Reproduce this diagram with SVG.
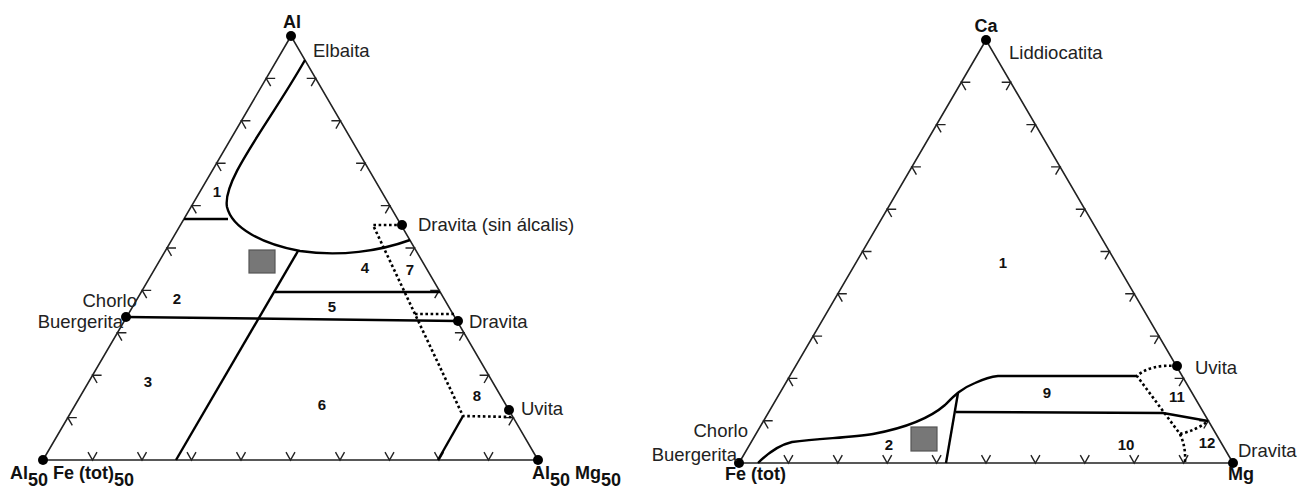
<svg xmlns="http://www.w3.org/2000/svg" width="1298" height="492" viewBox="0 0 1298 492">
<style>
.edge{fill:none;stroke:#222;stroke-width:1.6}
.tick{fill:none;stroke:#222;stroke-width:1.4}
.ln{fill:none;stroke:#000;stroke-width:2.4;stroke-linejoin:round}
.dot{fill:none;stroke:#000;stroke-width:2.6;stroke-dasharray:2.6 2.6}
.pt{fill:#000}
.lbl{font-family:"Liberation Sans",Arial,sans-serif;font-size:18.5px;fill:#222}
.ax{font-family:"Liberation Sans",Arial,sans-serif;font-size:18px;font-weight:bold;fill:#111}
.num{font-family:"Liberation Sans",Arial,sans-serif;font-size:15px;font-weight:bold;fill:#111;text-anchor:middle}
.sq{fill:#777;stroke:#555;stroke-width:1.2}
</style>
<defs>
<path id="tl" class="tick" d="M9,0 L0,0 L4.5,7.8"/>
<path id="tr" class="tick" d="M-9,0 L0,0 L-4.5,7.8"/>
<path id="tb" class="tick" d="M-4.5,-7.8 L0,0 L4.5,-7.8"/>
</defs>
<rect width="1298" height="492" fill="#fff"/>

<g id="triangle-left">
<path class="edge" d="M291,36 L43,460 L538,460 Z"/>
<g id="ticks-left">
<use href="#tl" x="266.2" y="78.4"/><use href="#tl" x="241.4" y="120.8"/><use href="#tl" x="216.6" y="163.2"/>
<use href="#tl" x="191.8" y="205.6"/><use href="#tl" x="167" y="248"/><use href="#tl" x="142.2" y="290.4"/>
<use href="#tl" x="117.4" y="332.8"/><use href="#tl" x="92.6" y="375.2"/><use href="#tl" x="67.8" y="417.6"/>
<use href="#tr" x="315.7" y="78.4"/><use href="#tr" x="340.4" y="120.8"/><use href="#tr" x="365.1" y="163.2"/>
<use href="#tr" x="389.8" y="205.6"/><use href="#tr" x="414.5" y="248"/><use href="#tr" x="439.2" y="290.4"/>
<use href="#tr" x="463.9" y="332.8"/><use href="#tr" x="488.6" y="375.2"/><use href="#tr" x="513.3" y="417.6"/>
<use href="#tb" x="92.5" y="460"/><use href="#tb" x="142" y="460"/><use href="#tb" x="191.5" y="460"/>
<use href="#tb" x="241" y="460"/><use href="#tb" x="290.5" y="460"/><use href="#tb" x="340" y="460"/>
<use href="#tb" x="389.5" y="460"/><use href="#tb" x="439" y="460"/><use href="#tb" x="488.5" y="460"/>
</g>
</g>

<g id="connectors-left">
<path class="ln" d="M305,60 C268,125 222,180 227,207 C232,228 262,244 300,251 C340,257 380,251 410,240"/>
<path class="ln" d="M184,219 L228,219"/>
<path class="ln" d="M298,251 L176,460"/>
<path class="ln" d="M275,292 L440,292"/>
<path class="ln" d="M126,317 L458,321"/>
<path class="ln" d="M463,416 L438,460"/>
<path class="dot" d="M402,225 L373,225 L463,416 L512,417"/>
<path class="dot" d="M415,314 L455,314"/>
</g>

<g id="regions-left">
<rect class="sq" x="249" y="250" width="26" height="23"/>
<text class="num" x="217" y="197">1</text>
<text class="num" x="177" y="304">2</text>
<text class="num" x="148" y="387">3</text>
<text class="num" x="365" y="273">4</text>
<text class="num" x="332" y="312">5</text>
<text class="num" x="322" y="410">6</text>
<text class="num" x="410" y="275">7</text>
<text class="num" x="477" y="401">8</text>
</g>

<g id="node-al">
<circle class="pt" cx="291" cy="36" r="5"/>
<text class="ax" x="292" y="28" text-anchor="middle">Al</text>
<text class="lbl" x="313" y="57">Elbaita</text>
</g>
<g id="node-dravita-sin">
<circle class="pt" cx="402" cy="225" r="5"/>
<text class="lbl" x="418" y="231">Dravita (sin álcalis)</text>
</g>
<g id="node-chorlo-left">
<circle class="pt" cx="126" cy="317" r="5"/>
<text class="lbl" x="137" y="307" text-anchor="end">Chorlo</text>
<text class="lbl" x="123" y="328" text-anchor="end">Buergerita</text>
</g>
<g id="node-dravita-left">
<circle class="pt" cx="458" cy="321" r="5"/>
<text class="lbl" x="469" y="328">Dravita</text>
</g>
<g id="node-uvita-left">
<circle class="pt" cx="509" cy="410" r="5"/>
<text class="lbl" x="521" y="415">Uvita</text>
</g>
<g id="node-alfe">
<circle class="pt" cx="43" cy="460" r="5"/>
<text class="ax" x="10" y="479">Al<tspan dy="7">50</tspan><tspan dy="-7"> Fe (tot)</tspan><tspan dy="7">50</tspan></text>
</g>
<g id="node-almg">
<circle class="pt" cx="538" cy="460" r="5"/>
<text class="ax" x="532" y="479">Al<tspan dy="7">50</tspan><tspan dy="-7"> Mg</tspan><tspan dy="7">50</tspan></text>
</g>

<g id="triangle-right">
<path class="edge" d="M986,40 L739,463 L1233,463 Z"/>
<g id="ticks-right">
<use href="#tl" x="961.3" y="82.3"/><use href="#tl" x="936.6" y="124.6"/><use href="#tl" x="911.9" y="166.9"/>
<use href="#tl" x="887.2" y="209.2"/><use href="#tl" x="862.5" y="251.5"/><use href="#tl" x="837.8" y="293.8"/>
<use href="#tl" x="813.1" y="336.1"/><use href="#tl" x="788.4" y="378.4"/><use href="#tl" x="763.7" y="420.7"/>
<use href="#tr" x="1010.7" y="82.3"/><use href="#tr" x="1035.4" y="124.6"/><use href="#tr" x="1060.1" y="166.9"/>
<use href="#tr" x="1084.8" y="209.2"/><use href="#tr" x="1109.5" y="251.5"/><use href="#tr" x="1134.2" y="293.8"/>
<use href="#tr" x="1158.9" y="336.1"/><use href="#tr" x="1183.6" y="378.4"/><use href="#tr" x="1208.3" y="420.7"/>
<use href="#tb" x="788.4" y="463"/><use href="#tb" x="837.8" y="463"/><use href="#tb" x="887.2" y="463"/>
<use href="#tb" x="936.6" y="463"/><use href="#tb" x="986" y="463"/><use href="#tb" x="1035.4" y="463"/>
<use href="#tb" x="1084.8" y="463"/><use href="#tb" x="1134.2" y="463"/><use href="#tb" x="1183.6" y="463"/>
</g>
</g>

<g id="connectors-right">
<path class="ln" d="M758,463 Q775,446 792,442 C820,438 850,438 873,434 C905,428 930,418 945,405 C953,397 960,389 975,383 Q988,377 998,376 L1137,376"/>
<path class="ln" d="M958,393 L946,463"/>
<path class="ln" d="M956,412 L1163,413 L1208,421"/>
<path class="dot" d="M1177,366 Q1150,364 1137,376 L1180,434 Q1197,430 1208,421"/>
<path class="dot" d="M1180,434 Q1186,447 1185,462"/>
</g>

<g id="regions-right">
<rect class="sq" x="911" y="427" width="26" height="24"/>
<text class="num" x="1003" y="268">1</text>
<text class="num" x="889" y="450">2</text>
<text class="num" x="1047" y="398">9</text>
<text class="num" x="1126" y="450">10</text>
<text class="num" x="1177" y="402">11</text>
<text class="num" x="1207" y="448">12</text>
</g>

<g id="node-ca">
<circle class="pt" cx="986" cy="40" r="5"/>
<text class="ax" x="986" y="32" text-anchor="middle">Ca</text>
<text class="lbl" x="1009" y="59">Liddiocatita</text>
</g>
<g id="node-uvita-right">
<circle class="pt" cx="1177" cy="366" r="5"/>
<text class="lbl" x="1195" y="374">Uvita</text>
</g>
<g id="node-fe">
<circle class="pt" cx="739" cy="463" r="5"/>
<text class="lbl" x="748" y="437" text-anchor="end">Chorlo</text>
<text class="lbl" x="737" y="461" text-anchor="end">Buergerita</text>
<text class="ax" x="725" y="480">Fe (tot)</text>
</g>
<g id="node-mg">
<circle class="pt" cx="1233" cy="463" r="5"/>
<text class="lbl" x="1238" y="457">Dravita</text>
<text class="ax" x="1228" y="480">Mg</text>
</g>
</svg>
